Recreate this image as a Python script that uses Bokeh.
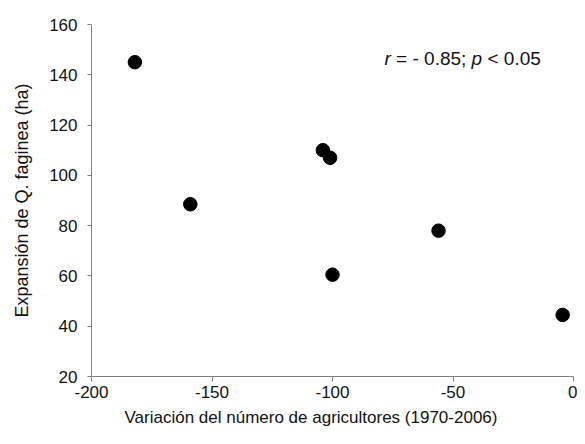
from bokeh.plotting import figure
from bokeh.models import Range1d, FixedTicker, Label, Title
from bokeh.embed import file_html
from bokeh.resources import INLINE

# Data
farmer_change = [-182, -159, -104, -101, -100, -56, -4.5]
oak_expansion = [145, 88.5, 110, 107, 60.5, 78, 44.5]

x_ticks = [-200, -150, -100, -50, 0]
y_ticks = [20, 40, 60, 80, 100, 120, 140, 160]

x_title = "Variación del número de agricultores (1970-2006)"
y_title = "Expansión de Q. faginea (ha)"

FONT = "Liberation Sans"
AXIS_GREY = "#808080"

p = figure(width=577, height=436, output_backend="svg", toolbar_location=None,
           x_range=Range1d(-200, 0), y_range=Range1d(20, 160),
           min_border_left=91, min_border_right=4, min_border_top=24, min_border_bottom=60)
p.outline_line_color = None
p.grid.grid_line_color = None
p.background_fill_color = "white"
p.border_fill_color = "white"

p.scatter(farmer_change, oak_expansion, size=13.5, color="black")

for ax, ticks in ((p.xaxis[0], x_ticks), (p.yaxis[0], y_ticks)):
    ax.ticker = FixedTicker(ticks=ticks)
    ax.major_label_overrides = {t: str(t) for t in ticks}
    ax.minor_tick_line_color = None
    ax.axis_line_color = AXIS_GREY
    ax.major_tick_line_color = AXIS_GREY
    ax.major_tick_in = 0
    ax.major_label_text_font = FONT
    ax.major_label_text_font_size = "17px"
    ax.major_label_text_color = "#111111"
    ax.axis_label_text_font = FONT
    ax.axis_label_text_font_style = "normal"
    ax.axis_label_text_color = "#111111"

p.xaxis.major_tick_out = 5
p.yaxis.major_tick_out = 4
p.xaxis.major_label_standoff = 4
p.yaxis.major_label_standoff = 10

p.yaxis.axis_label = y_title
p.yaxis.axis_label_text_font_size = "18px"
p.yaxis.axis_label_standoff = 14

# x-axis title, placed slightly off-centre as in the reference
p.add_layout(Title(text=x_title, align="left", offset=33, standoff=10,
                   text_font=FONT, text_font_size="17px", text_font_style="normal",
                   text_color="#111111"), "below")

parts = [("r", "italic", -78.4), ("= - 0.85;", "normal", -73.6),
         ("p", "italic", -42.3), ("< 0.05", "normal", -35.7)]
for txt, style, xpos in parts:
    p.add_layout(Label(x=xpos, y=146.5, text=txt, text_font=FONT,
                       text_font_size="19px", text_font_style=style,
                       text_color="#111111", text_baseline="middle", text_align="left"))

open("out.html", "w").write(file_html(p, INLINE))
